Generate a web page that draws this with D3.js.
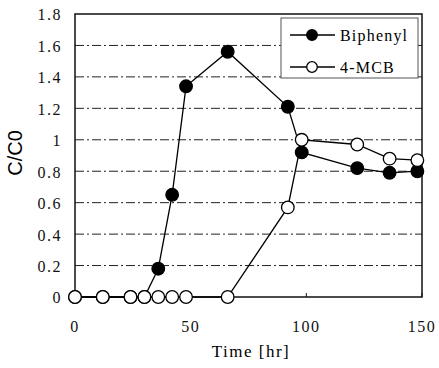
<!DOCTYPE html>
<html>
<head>
<meta charset="utf-8">
<script src="https://cdn.jsdelivr.net/npm/d3@7"></script>
<style>
  body { margin: 0; background: #fff; }
  .tick-label { font-family: "Liberation Serif", serif; font-size: 16px; letter-spacing: 1.5px; fill: #111; }
</style>
</head>
<body>
<div id="chart"></div>
<script>
// sampling times [hr]
var time = [0, 12, 24, 30, 36, 42, 48, 66, 92, 98, 122, 136, 148];
var biphenyl = [0, 0, 0, 0, 0.18, 0.65, 1.34, 1.56, 1.21, 0.92, 0.82, 0.79, 0.80];
var mcb = [0, 0, 0, 0, 0, 0, 0, 0, 0.57, 1.0, 0.97, 0.88, 0.87];
var xTicks = [0, 50, 100, 150];
var yTicks = [0, 0.2, 0.4, 0.6, 0.8, 1, 1.2, 1.4, 1.6, 1.8];
var series = [
    {name: "Biphenyl", values: biphenyl, fill: "#000"},
    {name: "4-MCB", values: mcb, fill: "#fff"}
];

var W = 439, H = 368;
var margin = {top: 14, right: 17, bottom: 71, left: 75};
var width = W - margin.left - margin.right;
var height = H - margin.top - margin.bottom;

var svg = d3.select("#chart").append("svg")
    .attr("width", W)
    .attr("height", H);

var g = svg.append("g")
    .attr("transform", "translate(" + margin.left + "," + margin.top + ")");

var x = d3.scaleLinear().domain([0, 150]).range([0, width]);
var y = d3.scaleLinear().domain([0, 1.8]).range([height, 0]);

// dash-dot grid
g.selectAll("line.grid")
    .data(yTicks.filter(d => d > 0 && d < 1.8))
    .enter()
    .append("line")
    .attr("class", "grid")
    .attr("x1", 0)
    .attr("x2", width)
    .attr("y1", d => y(d))
    .attr("y2", d => y(d))
    .attr("stroke", "#222")
    .attr("stroke-width", 1)
    .attr("stroke-dasharray", "9,3,2,3");

// frame
g.append("rect")
    .attr("width", width)
    .attr("height", height)
    .attr("fill", "none")
    .attr("stroke", "#111")
    .attr("stroke-width", 1.5);

// small inward ticks on x axis
g.selectAll("line.xt")
    .data(xTicks)
    .enter()
    .append("line")
    .attr("x1", d => x(d)).attr("x2", d => x(d))
    .attr("y1", height).attr("y2", height - 4)
    .attr("stroke", "#111");

// tick labels
g.selectAll("text.ylab")
    .data(yTicks)
    .enter()
    .append("text")
    .attr("class", "tick-label")
    .attr("x", -13)
    .attr("y", d => y(d))
    .attr("dy", "0.4em")
    .attr("text-anchor", "end")
    .text(d => d3.format("~g")(d));

g.selectAll("text.xlab")
    .data(xTicks)
    .enter()
    .append("text")
    .attr("class", "tick-label")
    .attr("x", d => x(d))
    .attr("y", height + 35)
    .attr("text-anchor", "middle")
    .text(d => d);

// axis titles
svg.append("text")
    .attr("transform", "translate(22,153) rotate(-90)")
    .attr("text-anchor", "middle")
    .style("font-family", "Liberation Sans, Arial, sans-serif")
    .style("font-size", "20px")
    .text("C/C0");

svg.append("text")
    .attr("x", 251)
    .attr("y", 357)
    .attr("text-anchor", "middle")
    .style("font-family", "Liberation Serif, serif")
    .style("font-size", "17px")
    .style("letter-spacing", "1.5px")
    .text("Time [hr]");

// series lines + markers
var line = d3.line()
    .x((d, i) => x(time[i]))
    .y(d => y(d));

series.forEach(function(s) {
    g.append("path")
        .datum(s.values)
        .attr("d", line)
        .attr("fill", "none")
        .attr("stroke", "#000")
        .attr("stroke-width", 1.3);
    g.selectAll("circle.s" + s.name.replace(/\W/g, ""))
        .data(s.values)
        .enter()
        .append("circle")
        .attr("cx", (d, i) => x(time[i]))
        .attr("cy", d => y(d))
        .attr("r", 6.3)
        .attr("fill", s.fill)
        .attr("stroke", "#000")
        .attr("stroke-width", 1.3);
});

// legend
var legend = svg.append("g")
    .attr("transform", "translate(281,18)");

legend.append("rect")
    .attr("width", 137)
    .attr("height", 60)
    .attr("fill", "#fff")
    .attr("stroke", "#555")
    .attr("stroke-width", 1);

var rows = legend.selectAll("g.row")
    .data(series)
    .enter()
    .append("g")
    .attr("transform", (d, i) => "translate(0," + (17 + i * 32) + ")");

rows.append("line")
    .attr("x1", 9).attr("x2", 54)
    .attr("stroke", "#000")
    .attr("stroke-width", 1.3);

rows.append("circle")
    .attr("cx", 31)
    .attr("r", 5.3)
    .attr("fill", d => d.fill)
    .attr("stroke", "#000")
    .attr("stroke-width", 1.3);

rows.append("text")
    .attr("x", 59)
    .attr("dy", "0.35em")
    .style("font-family", "Liberation Serif, serif")
    .style("font-size", "16px")
    .style("letter-spacing", "1.2px")
    .text(d => d.name);
</script>
</body>
</html>
